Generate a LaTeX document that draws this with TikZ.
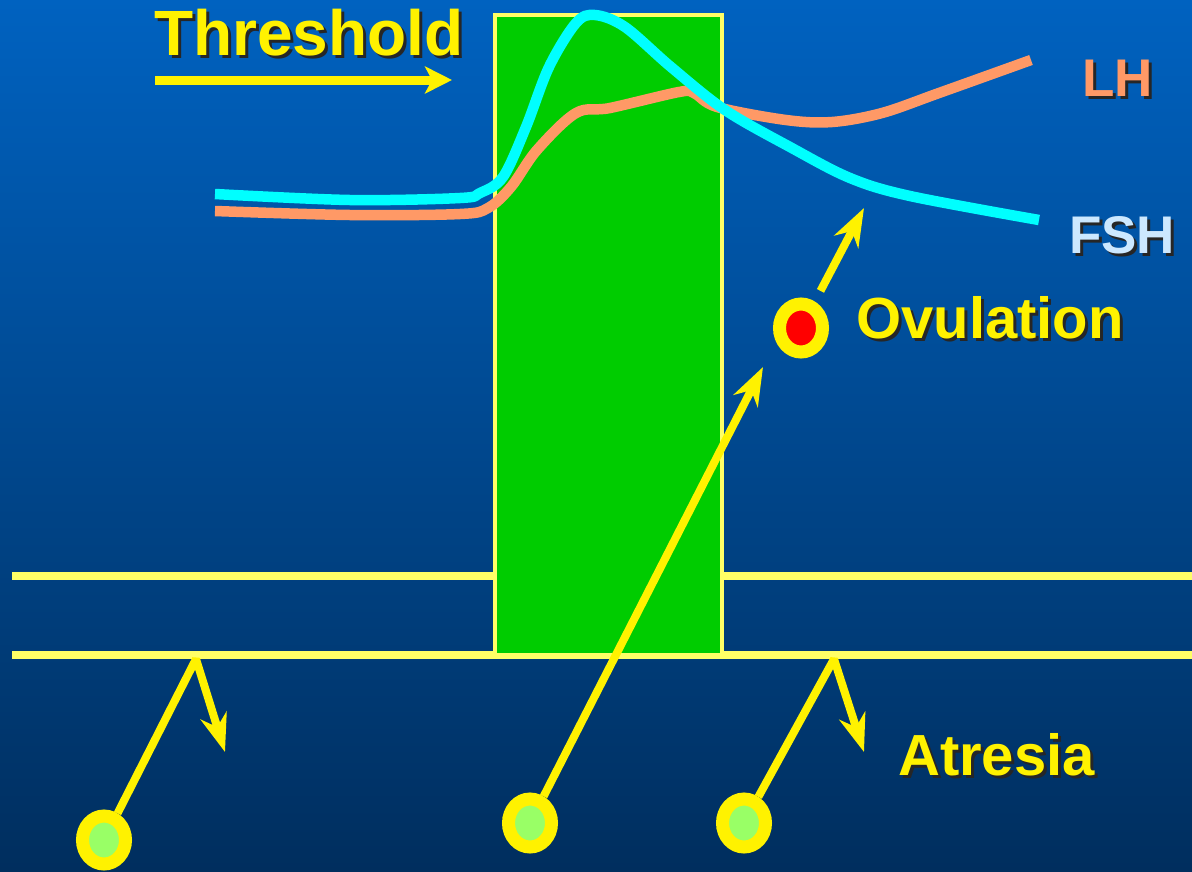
\documentclass[tikz,border=0pt]{standalone}
\usepackage{fontspec}
\setmainfont{Liberation Sans}
\usepackage{tikz}
\usepackage{xcolor}
\usetikzlibrary{arrows.meta,positioning,shapes.geometric}

\definecolor{bgtop}{RGB}{0,98,192}
\definecolor{bgbot}{RGB}{0,46,94}
\definecolor{railyel}{RGB}{255,255,102}
\definecolor{boxgreen}{RGB}{0,204,0}
\definecolor{lhcol}{RGB}{255,153,102}
\definecolor{fshcol}{RGB}{0,255,255}
\definecolor{fshlbl}{RGB}{204,232,255}
\definecolor{eggred}{RGB}{255,0,0}
\definecolor{egggreen}{RGB}{153,255,102}

\newcommand{\shadowed}[1]{\rlap{\kern3pt\raisebox{-3pt}{\color{black!85}#1}}#1}

\begin{document}
\begin{tikzpicture}[x=1pt, y=-1pt,
    lbl/.style={inner sep=0pt, anchor=base west},
    rail/.style={draw=railyel, line width=8pt},
    hormone/.style={line width=10.5pt, line cap=butt, line join=round},
    yarrow/.style={draw=yellow, line width=8pt, line join=bevel, -{Stealth[length=38pt,width=27pt,inset=12pt]}},
    follicle/.style={ellipse, draw=yellow, line width=13pt, minimum width=43pt, minimum height=48pt, inner sep=0pt}]
        \useasboundingbox (0,0) rectangle (1192,871);
        \fill[top color=bgtop, bottom color=bgbot] (0,0) rectangle (1192,871);

        % rails and the green window
        \draw[rail] (12,576) -- (495,576);
        \draw[rail] (722,576) -- (1192,576);
        \draw[rail] (12,655) -- (1192,655);
        \node[draw=railyel, fill=boxgreen, line width=4pt, inner sep=0pt, outer sep=0pt, minimum width=227pt, minimum height=640pt] (window) at (608.5,335) {};

        % hormone curves
        \draw[hormone, lhcol] plot[smooth, tension=0.55] coordinates {(215,211) (350,215) (460,214) (488,208) (511,187) (537,150) (576,113) (610,108) (679,92) (694,93) (717,107) (786,120) (832,122) (882,113) (939,93) (1031,60)};
        \draw[hormone, fshcol] plot[smooth, tension=0.55] coordinates {(215,194) (350,200) (460,198) (480,193) (503,177) (526,127) (549,67) (576,23) (595,15) (625,27) (671,67) (725,110) (790,147) (850,178) (910,196) (1039,220)};

        % labels
        \node[lbl, font=\bfseries\fontsize{64}{66}\selectfont, text=yellow] (thr) at (154,55) {\shadowed{Threshold}};
        \node[lbl, font=\bfseries\fontsize{53}{56}\selectfont, text=lhcol] (lh) at (1082,96) {\shadowed{LH}};
        \node[lbl, font=\bfseries\fontsize{53}{56}\selectfont, text=fshlbl] (fsh) at (1069,253) {\shadowed{FSH}};
        \node[lbl, font=\bfseries\fontsize{58}{61}\selectfont, text=yellow] (ovl) at (856,338) {\shadowed{Ovulation}};
        \node[lbl, font=\bfseries\fontsize{58}{60}\selectfont, text=yellow] (atr) at (898,775) {\shadowed{Atresia}};

        \coordinate (th-start) at (155,80);
        \coordinate (th-end) at (452,80);
        \draw[draw=yellow, line width=9pt, -{Stealth[length=27pt,width=27pt,inset=7pt]}] (th-start) -- (th-end);

        % follicles
        \node[follicle, fill=egggreen] (f1) at (104,840) {};
        \node[follicle, fill=egggreen] (f2) at (530,823) {};
        \node[follicle, fill=egggreen] (f3) at (744,823) {};
        \node[follicle, fill=eggred] (ov) at (801,328) {};

        \coordinate (j1) at (196,659);
        \coordinate (a1) at (225,752);
        \coordinate (j3) at (834,659);
        \coordinate (a3) at (864,752);
        \coordinate (ovtip) at (763,367);
        \coordinate (ovup) at (864,208);

        \draw[yarrow] (f1) -- (j1) -- (a1);
        \draw[yarrow] (f3) -- (j3) -- (a3);
        \draw[yarrow] (f2) -- (ovtip);
        \draw[yarrow, shorten <=12pt] (ov) -- (ovup);
      \end{tikzpicture}
\end{document}
